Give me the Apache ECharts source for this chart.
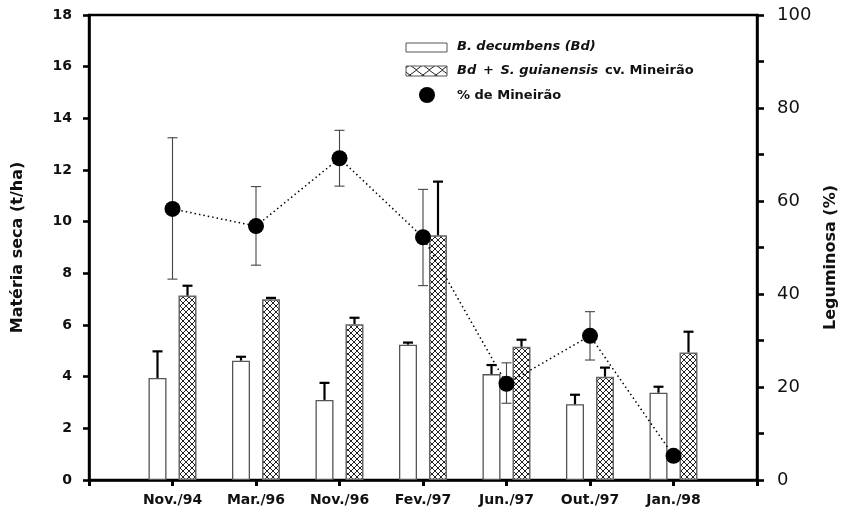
<!DOCTYPE html>
<html>
<head>
<meta charset="utf-8">
<script src="https://cdn.jsdelivr.net/npm/echarts@6/dist/echarts.min.js"></script>
<style>
html,body{margin:0;padding:0;background:#fff;}
#chart{width:841px;height:510px;}
</style>
</head>
<body>
<div id="chart"></div>
<script>
// ---- data ----
var categories = ['Nov./94', 'Mar./96', 'Nov./96', 'Fev./97', 'Jun./97', 'Out./97', 'Jan./98'];
var bdValues = [3.95, 4.62, 3.10, 5.24, 4.10, 2.93, 3.38];
var bdUpper = [4.98, 4.77, 3.76, 5.32, 4.45, 3.30, 3.61];
var mixValues = [7.14, 7.00, 6.03, 9.47, 5.16, 4.00, 4.94];
var mixUpper = [7.52, 7.05, 6.28, 11.55, 5.43, 4.35, 5.74];
var pctValues = [58.3, 54.6, 69.2, 52.2, 20.7, 31.0, 5.2];
var pctLow = [43.2, 46.2, 63.2, 41.8, 16.5, 25.8, 5.2];
var pctHigh = [73.6, 63.1, 75.2, 62.5, 25.2, 36.2, 5.2];
var leftTicks = [0, 18, 2];
var rightTicks = [0, 100, 20];

// ---- layout/style constants ----
var BAR_W = 18, BAR_GAP = 12;
var OFFSET = (BAR_W + BAR_GAP) / 2;
var FONT = 'DejaVu Sans';

function makeHatch(w, h, lw) {
  var c = document.createElement('canvas');
  c.width = w; c.height = h;
  var ctx = c.getContext('2d');
  ctx.fillStyle = '#fff';
  ctx.fillRect(0, 0, w, h);
  ctx.strokeStyle = '#222';
  ctx.lineWidth = lw;
  ctx.beginPath();
  ctx.moveTo(0, 0); ctx.lineTo(w, h);
  ctx.moveTo(w, 0); ctx.lineTo(0, h);
  ctx.stroke();
  return c;
}
var hatchBar = makeHatch(6, 6, 1);
var hatchLegend = makeHatch(41 / 3, 10, 1);

// padded category list: empty slots at both ends
var xData = [''].concat(categories).concat(['']);
function pad(arr) { return ['-'].concat(arr).concat(['-']); }

var bdErr = bdValues.map(function (v, i) { return [i + 1, v, bdUpper[i]]; });
var mixErr = mixValues.map(function (v, i) { return [i + 1, v, mixUpper[i]]; });
var pctErr = pctValues.map(function (v, i) { return [i + 1, pctLow[i], pctHigh[i]]; });

function barErrRender(offset) {
  return function (params, api) {
    var x = api.value(0);
    var p0 = api.coord([x, api.value(1)]);
    var p1 = api.coord([x, api.value(2)]);
    var cx = p0[0] + offset;
    var st = { stroke: '#000', lineWidth: 2.2 };
    return {
      type: 'group',
      children: [
        { type: 'line', shape: { x1: cx, y1: p0[1], x2: cx, y2: p1[1] }, style: st },
        { type: 'line', shape: { x1: cx - 5, y1: p1[1], x2: cx + 5, y2: p1[1] }, style: st }
      ]
    };
  };
}
function pctErrRender(params, api) {
  var x = api.value(0);
  var lo = api.coord([x, api.value(1)]);
  var hi = api.coord([x, api.value(2)]);
  var cx = lo[0];
  if (Math.abs(lo[1] - hi[1]) < 1) return { type: 'group', children: [] };
  var st = { stroke: '#444', lineWidth: 1.1 };
  return {
    type: 'group',
    children: [
      { type: 'line', shape: { x1: cx, y1: lo[1], x2: cx, y2: hi[1] }, style: st },
      { type: 'line', shape: { x1: cx - 5, y1: lo[1], x2: cx + 5, y2: lo[1] }, style: st },
      { type: 'line', shape: { x1: cx - 5, y1: hi[1], x2: cx + 5, y2: hi[1] }, style: st }
    ]
  };
}

var chart = echarts.init(document.getElementById('chart'), null, { renderer: 'canvas' });
var axisLineStyle = { color: '#000', width: 2.6 };

var option = {
  animation: false,
  backgroundColor: '#fff',
  grid: { left: 89, right: 84, top: 15, bottom: 30, show: true, borderColor: '#000', borderWidth: 2.4,
          containLabel: false, outerBoundsMode: 'none' },
  xAxis: {
    type: 'category',
    data: xData,
    boundaryGap: false,
    axisLine: { lineStyle: axisLineStyle },
    axisTick: { show: true, length: 6, lineStyle: { color: '#000', width: 3 } },
    axisLabel: { interval: 0, margin: 13, color: '#111', fontFamily: FONT, fontWeight: 'bold', fontSize: 14 },
    splitLine: { show: false }
  },
  yAxis: [{
    type: 'value',
    min: leftTicks[0], max: leftTicks[1], interval: leftTicks[2],
    position: 'left',
    name: 'Matéria seca (t/ha)',
    nameLocation: 'middle',
    nameRotate: 90,
    nameGap: 63,
    nameTextStyle: { color: '#111', fontFamily: FONT, fontWeight: 'bold', fontSize: 16 },
    axisLine: { show: true, lineStyle: axisLineStyle },
    axisTick: { show: true, length: 6, lineStyle: { color: '#000', width: 2.6 } },
    axisLabel: { margin: 17, color: '#111', fontFamily: FONT, fontWeight: 'bold', fontSize: 14 },
    splitLine: { show: false }
  }, {
    type: 'value',
    min: rightTicks[0], max: rightTicks[1], interval: rightTicks[2],
    position: 'right',
    name: 'Leguminosa (%)',
    nameLocation: 'middle',
    nameRotate: 90,
    nameGap: 66,
    nameTextStyle: { color: '#111', fontFamily: FONT, fontWeight: 'bold', fontSize: 16, padding: [0, 20, 0, 0] },
    axisLine: { show: true, lineStyle: axisLineStyle },
    axisTick: { show: true, length: 7, lineStyle: { color: '#000', width: 2.6 } },
    minorTick: { show: true, splitNumber: 2, length: 7, lineStyle: { color: '#000', width: 2.6 } },
    axisLabel: { margin: 20, color: '#111', fontFamily: FONT, fontSize: 18 },
    splitLine: { show: false },
    minorSplitLine: { show: false }
  }],
  series: [{
    name: 'B. decumbens (Bd)',
    type: 'bar',
    data: pad(bdValues),
    barWidth: BAR_W,
    barGap: (BAR_GAP / BAR_W * 100) + '%',
    itemStyle: { color: '#fff', borderColor: '#555', borderWidth: 1.3 },
    z: 2
  }, {
    name: 'Bd + S. guianensis cv. Mineirão',
    type: 'bar',
    data: pad(mixValues),
    barWidth: BAR_W,
    barGap: (BAR_GAP / BAR_W * 100) + '%',
    itemStyle: { color: { image: hatchBar, repeat: 'repeat' }, borderColor: '#666', borderWidth: 1.5 },
    z: 2
  }, {
    type: 'custom',
    data: bdErr,
    renderItem: barErrRender(-OFFSET),
    z: 3
  }, {
    type: 'custom',
    data: mixErr,
    renderItem: barErrRender(OFFSET),
    z: 3
  }, {
    type: 'custom',
    yAxisIndex: 1,
    data: pctErr,
    renderItem: pctErrRender,
    z: 4
  }, {
    name: '% de Mineirão',
    type: 'line',
    yAxisIndex: 1,
    data: pad(pctValues),
    symbol: 'circle',
    symbolSize: 16,
    lineStyle: { color: '#000', width: 1.5, type: [1.5, 3] },
    itemStyle: { color: '#000' },
    z: 5
  }],
  graphic: [
    { type: 'rect', shape: { x: 406, y: 43, width: 41, height: 9 }, style: { fill: '#fff', stroke: '#555', lineWidth: 1 }, z: 10 },
    { type: 'rect', shape: { x: 406, y: 66, width: 41, height: 10 }, style: { fill: { image: hatchLegend, repeat: 'repeat' }, stroke: '#555', lineWidth: 1 }, z: 10 },
    { type: 'circle', shape: { cx: 427, cy: 95, r: 8 }, style: { fill: '#000' }, z: 10 },
    { type: 'text', x: 457, y: 47, style: { text: 'B. decumbens (Bd)', fill: '#111', font: 'italic bold 13px "DejaVu Sans"', verticalAlign: 'middle' }, z: 10 },
    { type: 'text', x: 457, y: 71, style: {
        text: '{i|Bd}  {n|+}  {i|S. guianensis}  {n|cv. Mineirão}',
        verticalAlign: 'middle',
        rich: {
          i: { fill: '#111', fontFamily: FONT, fontStyle: 'italic', fontWeight: 'bold', fontSize: 13 },
          n: { fill: '#111', fontFamily: FONT, fontWeight: 'bold', fontSize: 13 }
        }
      }, z: 10 },
    { type: 'text', x: 457, y: 96, style: { text: '% de Mineirão', fill: '#111', font: 'bold 13px "DejaVu Sans"', verticalAlign: 'middle' }, z: 10 }
  ]
};
chart.setOption(option);
</script>
</body>
</html>
